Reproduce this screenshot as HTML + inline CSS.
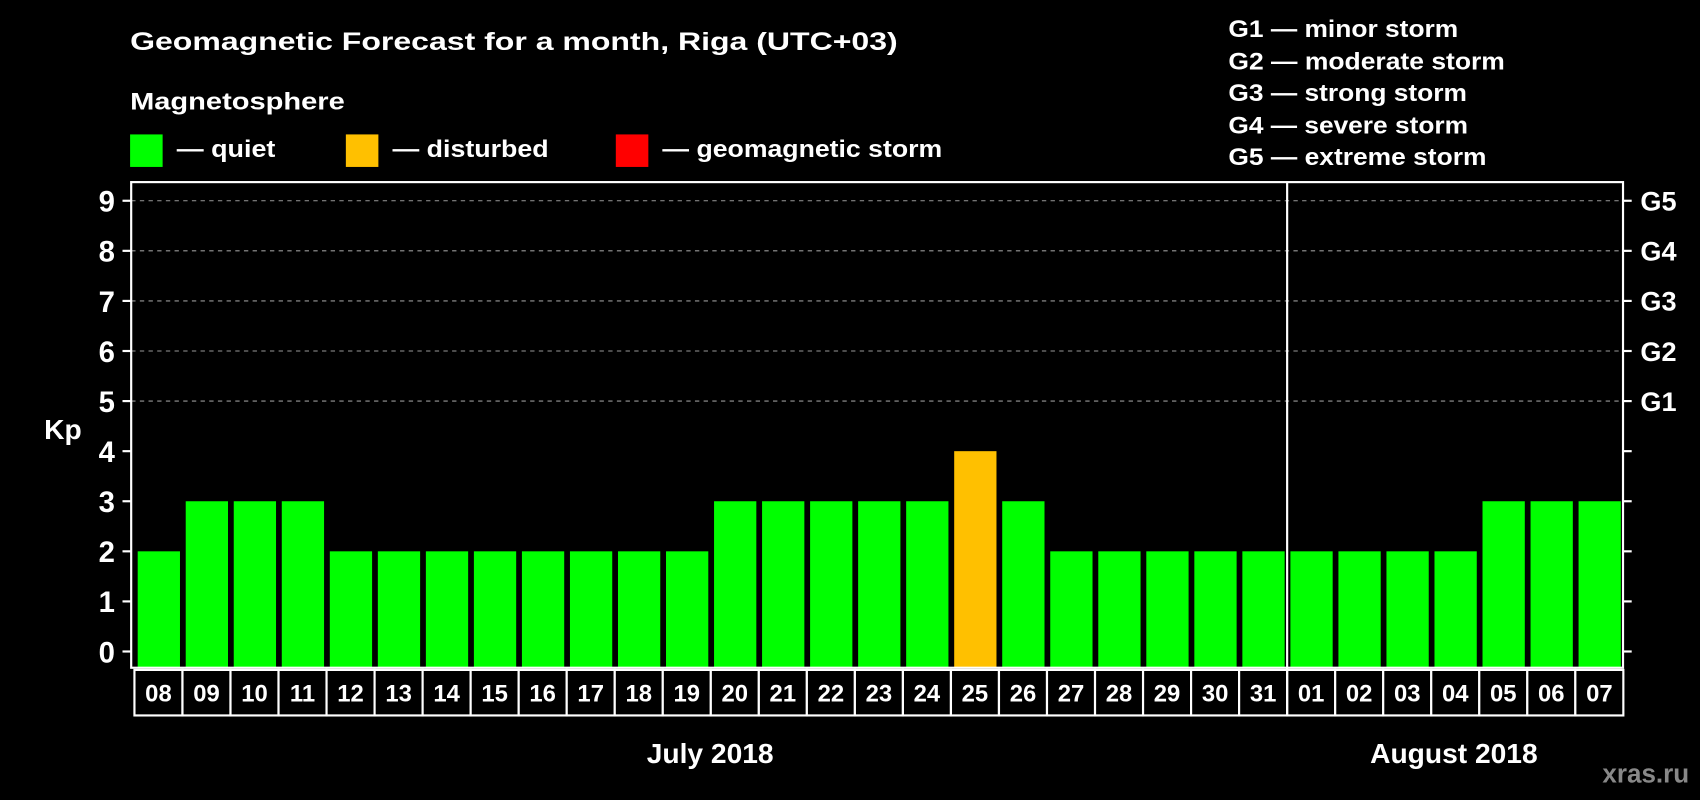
<!DOCTYPE html>
<html><head><meta charset="utf-8"><style>
html,body{margin:0;padding:0;background:#000;width:1700px;height:800px;overflow:hidden}
svg{display:block;font-family:"Liberation Sans",Arial,sans-serif;font-weight:bold}
</style></head><body>
<svg id="chart" width="1700" height="800" viewBox="0 0 1568 738" preserveAspectRatio="none" xmlns="http://www.w3.org/2000/svg">
<rect x="0" y="0" width="1568" height="738" fill="#000"/>
<text x="120" y="46" fill="#fff" font-size="23" textLength="708" lengthAdjust="spacingAndGlyphs">Geomagnetic Forecast for a month, Riga (UTC+03)</text>
<text x="120" y="101" fill="#fff" font-size="22" textLength="198" lengthAdjust="spacingAndGlyphs">Magnetosphere</text>
<g>
<rect x="120" y="124" width="30" height="30" fill="#00ff00"/>
<text x="163" y="145" fill="#fff" font-size="22" textLength="91" lengthAdjust="spacingAndGlyphs">— quiet</text></g>
<g>
<rect x="319" y="124" width="30" height="30" fill="#ffc000"/>
<text x="362" y="145" fill="#fff" font-size="22" textLength="144" lengthAdjust="spacingAndGlyphs">— disturbed</text></g>
<g>
<rect x="568" y="124" width="30" height="30" fill="#ff0000"/>
<text x="611" y="145" fill="#fff" font-size="22" textLength="258" lengthAdjust="spacingAndGlyphs">— geomagnetic storm</text></g>
<g fill="#fff" font-size="22">
<text x="1133" y="34" textLength="212" lengthAdjust="spacingAndGlyphs">G1 — minor storm</text>
<text x="1133" y="64" textLength="255" lengthAdjust="spacingAndGlyphs">G2 — moderate storm</text>
<text x="1133" y="93" textLength="220" lengthAdjust="spacingAndGlyphs">G3 — strong storm</text>
<text x="1133" y="123" textLength="221" lengthAdjust="spacingAndGlyphs">G4 — severe storm</text>
<text x="1133" y="152" textLength="238" lengthAdjust="spacingAndGlyphs">G5 — extreme storm</text>
</g>
<g id="grid"></g>
<g id="bars"></g>
<g id="axes"></g>
<text x="58" y="405" fill="#fff" font-size="26" text-anchor="middle">Kp</text>
<text x="655" y="704" fill="#fff" font-size="26" text-anchor="middle">July 2018</text>
<text x="1341" y="704" fill="#fff" font-size="26" text-anchor="middle">August 2018</text>
<text x="1558" y="722" fill="#888" font-size="24" text-anchor="end">xras.ru</text>
</svg>
<script>
const days = ["08","09","10","11","12","13","14","15","16","17","18","19","20","21","22","23","24","25","26","27","28","29","30","31","01","02","03","04","05","06","07"];
const kpValues = [2,3,3,3,2,2,2,2,2,2,2,2,3,3,3,3,3,4,3,2,2,2,2,2,2,2,2,2,3,3,3];
const yTicks = [0,1,2,3,4,5,6,7,8,9];
const gLabels = ["G1","G2","G3","G4","G5"];
const gLevels = [5,6,7,8,9];
const monthBreakIndex = 24;

const NS = "http://www.w3.org/2000/svg";
const L = 121, R = 1497, T = 168, B = 616;
const y0 = 601, unit = 46.2;
const pitch = 44.3, x0 = 124;
function yScale(v){ return y0 - v*unit; }
function xScale(i){ return x0 + i*pitch; }
function colorFor(v){ return v >= 5 ? "#ff0000" : (v >= 4 ? "#ffc000" : "#00ff00"); }
function mk(tag, attrs, parent){ const e=document.createElementNS(NS,tag); for(const k in attrs) e.setAttribute(k,attrs[k]); parent.appendChild(e); return e; }

const grid = document.getElementById("grid");
const bars = document.getElementById("bars");
const axes = document.getElementById("axes");

gLevels.forEach((v,i)=>{
  const ln = mk("line",{x1:L,x2:R,y1:yScale(v),y2:yScale(v),stroke:"#999","stroke-width":1,"stroke-dasharray":"4,4"},grid);
  
  
  const t = mk("text",{x:1513,y:yScale(v)+9,fill:"#fff","font-size":25},axes);
  t.textContent = gLabels[i];
  
  
});

kpValues.forEach((v,i)=>{
  const r = mk("rect",{x:xScale(i)+3,y:yScale(v),width:39,height:B-yScale(v),fill:colorFor(v)},bars);
  
  
});

const frame = mk("rect",{x:L,y:T,width:R-L,height:B-T,fill:"none",stroke:"#fff","stroke-width":2},axes);



yTicks.forEach(v=>{
  const tk = mk("line",{x1:113,x2:L,y1:yScale(v),y2:yScale(v),stroke:"#fff","stroke-width":2},axes);
  
  
  const tr = mk("line",{x1:R,x2:1505,y1:yScale(v),y2:yScale(v),stroke:"#fff","stroke-width":2},axes);
  
  
  const t = mk("text",{x:106,y:yScale(v)+10,fill:"#fff","font-size":27,"text-anchor":"end"},axes);
  t.textContent = v;
  
  
});

days.forEach((d,i)=>{
  const c = mk("rect",{x:xScale(i),y:618,width:pitch,height:42,fill:"#000",stroke:"#fff","stroke-width":2},axes);
  
  
  const t = mk("text",{x:xScale(i)+pitch/2,y:647,fill:"#fff","font-size":22,"text-anchor":"middle"},axes);
  t.textContent = d;
  
  
});

const mx = xScale(monthBreakIndex);
const ml = mk("line",{x1:mx,x2:mx,y1:T,y2:660,stroke:"#fff","stroke-width":2},axes);


</script>
</body></html>
